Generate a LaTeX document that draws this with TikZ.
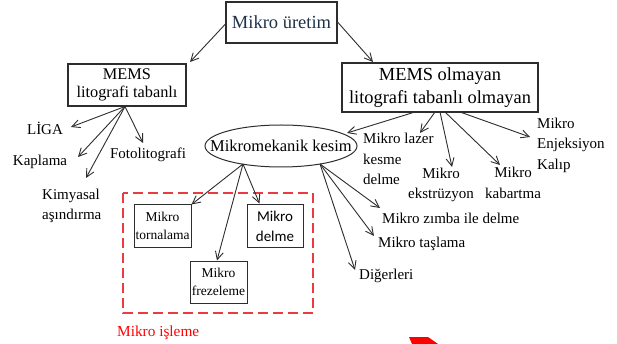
\documentclass[tikz,border=0pt]{standalone}
\usepackage{fontspec}
\setmainfont{Liberation Serif}
\newfontfamily\carlito{Carlito}
\usetikzlibrary{arrows.meta,shapes.geometric,calc}
\definecolor{navy}{RGB}{30,50,72}
\definecolor{ln}{RGB}{45,45,45}
\definecolor{dred}{RGB}{232,60,66}
\begin{document}
\begin{tikzpicture}[x=1pt,y=-1pt,
  box/.style={draw=ln,line width=1.1pt,inner sep=0pt,align=center},
  lbl/.style={inner sep=0pt,font=\fontsize{15}{20.5}\selectfont},
  arr/.style={draw=ln,line width=0.9pt,-{Straight Barb[length=8pt,width=8pt,line width=0.9pt]}},
  sbox/.style={draw=ln,line width=1pt,inner sep=0pt,align=center,minimum height=42pt,font=\fontsize{13.5}{18}\selectfont}]
\useasboundingbox (0,0) rectangle (617,344);
% boxes
\node[box,minimum width=111pt,minimum height=41pt,text=navy,font=\fontsize{18.5}{22}\selectfont] (top) at (281.5,22.5) {Mikro üretim};
\node[box,minimum width=118pt,minimum height=42pt,font=\fontsize{16.3}{18}\selectfont] (memsl) at (127,85) {MEMS\\litografi tabanlı};
\node[box,line width=1.5pt,minimum width=196pt,minimum height=49pt,font=\fontsize{18.4}{23}\selectfont] (memsn) at (440,87.5) {MEMS olmayan\\litografi tabanlı olmayan};
\node[draw=ln,line width=1pt,ellipse,minimum width=152pt,minimum height=42pt,inner sep=0pt] (mk) at (281,146) {};
\node[inner sep=0pt,font=\fontsize{16.5}{18}\selectfont] (mkt) at (mk.center) {Mikromekanik kesim};
% small boxes
\node[sbox,minimum width=57pt] (torn) at (162.5,226) {Mikro\\tornalama};
\node[sbox,minimum width=56pt,font=\carlito\fontsize{15}{20}\selectfont] (delb) at (275,226) {Mikro\\delme};
\node[sbox,minimum width=57pt] (frez) at (218.5,282) {Mikro\\frezeleme};
\draw[dred,line width=1.2pt,dash pattern=on 10pt off 5pt] (123,193) rectangle (313,313);
\node[lbl,text=red,anchor=west,font=\fontsize{15.3}{18}\selectfont] (isl) at (117,333) {Mikro işleme};
% labels
\node[lbl] (liga) at (45,128) {LİGA};
\node[lbl] (kap) at (40,162) {Kaplama};
\node[lbl] (foto) at (148,155) {Fotolitografi};
\node[lbl,align=left,anchor=west] (kim) at (42,206) {Kimyasal\\aşındırma};
\node[lbl,align=left,anchor=west] (laz) at (363,159) {Mikro lazer\\kesme\\delme};
\node[lbl,align=center] (eks) at (441,185) {Mikro\\ekstrüzyon};
\node[lbl,align=center] (kab) at (513,183) {Mikro\\kabartma};
\node[lbl,align=left,anchor=west] (enj) at (537,145) {Mikro\\Enjeksiyon\\Kalıp};
\node[lbl,anchor=west] (zim) at (382,218) {Mikro zımba ile delme};
\node[lbl,anchor=west] (tas) at (378,244) {Mikro taşlama};
\node[lbl,anchor=west] (dig) at (359,276) {Diğerleri};
% arrow end coordinates
\coordinate (eL) at (190,62);
\coordinate (eR) at (373,62);
\coordinate (sL) at (125,106.5);
\coordinate (tLiga) at (71,127);
\coordinate (tKap) at (78,157);
\coordinate (tKim) at (86,178);
\coordinate (tFoto) at (143,143);
\coordinate (tMk) at (347,133);
\coordinate (tLaz) at (420,133);
\coordinate (tEks) at (452,167);
\coordinate (tKab) at (500,165);
\coordinate (tEnj) at (530,137);
\coordinate (sMkR) at (320,164);
\coordinate (sMkL) at (243,164);
\coordinate (tZim) at (380,208);
\coordinate (tTas) at (374,236);
\coordinate (tDig) at (355,270);
% arrows
\draw[arr] (top.west |- 0,24) -- (eL);
\draw[arr] (top.east |- 0,22) -- (eR);
\draw[arr] (sL) -- (tLiga);
\draw[arr] (sL) -- (tKap);
\draw[arr] (sL) -- (tKim);
\draw[arr] (sL) -- (tFoto);
\draw[arr] (415,112) -- (tMk);
\draw[arr] (435,112) -- (tLaz);
\draw[arr] (440,112) -- (tEks);
\draw[arr] (445,112) -- (tKab);
\draw[arr] (460,112) -- (tEnj);
\draw[arr] (sMkR) -- (tZim);
\draw[arr] (sMkR) -- (tTas);
\draw[arr] (sMkR) -- (tDig);
\draw[arr] (sMkL) -- (torn.north east);
\draw[arr] (sMkL) -- (frez.north -| 217,0);
\draw[arr] (sMkL) -- ($(delb.north west)+(13,-1)$);
% red fragment
\fill[red] (409,337) -- (428,337) -- (438,344) -- (412,344) -- cycle;
\end{tikzpicture}
\end{document}
